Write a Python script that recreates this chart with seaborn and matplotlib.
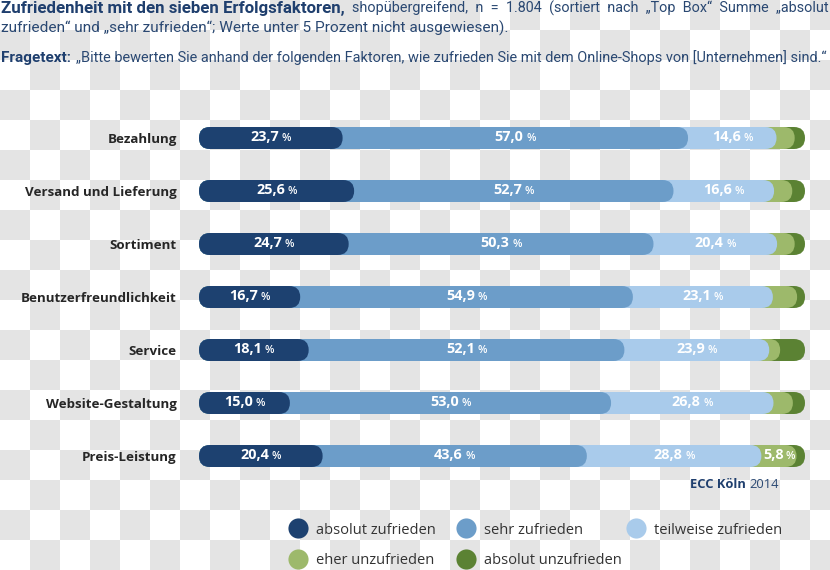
import numpy as np
import pandas as pd
import seaborn as sns
import matplotlib
matplotlib.use("Agg")
import matplotlib.pyplot as plt
from matplotlib import font_manager as fm
from matplotlib.patches import FancyBboxPatch
from matplotlib.lines import Line2D
from matplotlib.offsetbox import TextArea, HPacker, AnnotationBbox

# ---------------- data ----------------
categories = ["Bezahlung", "Versand und Lieferung", "Sortiment",
              "Benutzerfreundlichkeit", "Service", "Website-Gestaltung",
              "Preis-Leistung"]
absolut_zufrieden = [23.7, 25.6, 24.7, 16.7, 18.1, 15.0, 20.4]
sehr_zufrieden = [57.0, 52.7, 50.3, 54.9, 52.1, 53.0, 43.6]
teilweise_zufrieden = [14.6, 16.6, 20.4, 23.1, 23.9, 26.8, 28.8]
eher_unzufrieden = [3.0, 3.0, 2.9, 4.0, 1.8, 3.2, 5.8]
absolut_unzufrieden = [1.7, 2.1, 1.7, 1.3, 4.1, 2.0, 1.4]
series_names = ["absolut zufrieden", "sehr zufrieden", "teilweise zufrieden",
                "eher unzufrieden", "absolut unzufrieden"]
series_values = [absolut_zufrieden, sehr_zufrieden, teilweise_zufrieden,
                 eher_unzufrieden, absolut_unzufrieden]
colors = ["#1d4170", "#6c9dc9", "#a9cbeb", "#9db96b", "#5b8233"]

# ---------------- fonts ----------------
avail = {f.name for f in fm.fontManager.ttflist}
def pick(*names):
    for n in names:
        if n in avail:
            return n
    return "DejaVu Sans"
NARROW = pick("Liberation Sans Narrow", "DejaVu Sans Condensed", "Roboto", "Liberation Sans")
SANS = pick("Open Sans", "Noto Sans", "DejaVu Sans")

sns.set_theme(style="white")
plt.rcParams["font.family"] = [SANS, "DejaVu Sans"]

W, H = 830, 570
fig = plt.figure(figsize=(W / 100, H / 100), dpi=100, facecolor="white")

# checkerboard background (transparency pattern of the reference)
rr = np.arange(H)[:, None] // 30
cc = np.arange(W)[None, :] // 30
checker = np.where((rr + cc) % 2 == 1, 0.895, 1.0)
img = np.dstack([checker, checker, checker])
fig.figimage(img, xo=0, yo=0, origin="upper", zorder=-10)

# axes: x 0..100 maps to px 199..805, rows centred 138..456 px
ax_left, ax_right = 199, 805
ax_top, ax_bot = 111.5, 482.5
ax = fig.add_axes([ax_left / W, 1 - ax_bot / H, (ax_right - ax_left) / W, (ax_bot - ax_top) / H])
ax.set_zorder(2)
ax.set_facecolor("none")

bar_h = 0.415
cum = np.cumsum(np.array(series_values), axis=0)
# draw longest (cumulative) first so shorter ones layer on top
for k in range(len(series_names) - 1, -1, -1):
    df = pd.DataFrame({"cat": categories, "val": cum[k]})
    sns.barplot(data=df, x="val", y="cat", orient="h", color=colors[k],
                saturation=1, width=bar_h, ax=ax, errorbar=None)

ax.set_xlim(0, 100)
ax.set_ylim(len(categories) - 0.5, -0.5)

# turn bars into capsules
px_per_x = (ax_right - ax_left) / 100
px_per_y = (ax_bot - ax_top) / len(categories)
aspect = px_per_x / px_per_y
rects = list(ax.patches)
for i, r in enumerate(rects):
    x0, y0, w, h = r.get_x(), r.get_y(), r.get_width(), r.get_height()
    fc = r.get_facecolor()
    r.remove()
    rad = (h / 2) / aspect
    p = FancyBboxPatch((x0, y0), w, h,
                       boxstyle=f"round,pad=0,rounding_size={rad}",
                       mutation_aspect=aspect, facecolor=fc, edgecolor="none",
                       zorder=2 + i * 0.01)
    ax.add_patch(p)

# value labels (>= 5 %)
for k, vals in enumerate(series_values):
    start = cum[k] - np.array(vals)
    for j, v in enumerate(vals):
        if v < 5:
            continue
        cx = start[j] + v / 2
        t1 = TextArea(f"{v:.1f}".replace(".", ","),
                      textprops=dict(color="white", fontsize=10.4, fontweight="bold", family=SANS))
        t2 = TextArea("%", textprops=dict(color="white", fontsize=7.8, fontweight="semibold", family=SANS))
        box = HPacker(children=[t1, t2], align="baseline", pad=0, sep=2 if k < 3 else 1)
        ab = AnnotationBbox(box, (cx, j), xycoords="data", frameon=False,
                            box_alignment=(0.5, 0.42), pad=0, zorder=10)
        ax.add_artist(ab)

ax.set_xlabel("")
ax.set_ylabel("")
ax.set_xticks([])
ax.tick_params(axis="y", length=0, pad=16)
for lab in ax.get_yticklabels():
    lab.set_fontweight("bold")
    lab.set_fontsize(9.6)
    lab.set_color("#262626")
sns.despine(ax=ax, left=True, bottom=True)

# ---------------- titles ----------------
navy = "#1f3f6e"
renderer = fig.canvas.get_renderer()
def fit(x_px, y_px, s, target_w, ha="left", va="center", **kw):
    t = fig.text(x_px / W, 1 - y_px / H, s, ha=ha, va=va, **kw)
    w = t.get_window_extent(renderer).width
    t.set_fontsize(t.get_fontsize() * target_w / w)
    return t

fit(1, 1, "Zufriedenheit mit den sieben Erfolgsfaktoren,", 345, va="top",
    family=[NARROW, "DejaVu Sans"], fontweight="bold", color=navy, fontsize=11)
fit(1, 28, "zufrieden\u201c und \u201esehr zufrieden\u201c; Werte unter 5 Prozent nicht ausgewiesen).", 507,
    family=[NARROW, "DejaVu Sans"], color="#2a4872", fontsize=11)
fit(829, 1, "shop\u00fcbergreifend,  n  =  1.804  (sortiert  nach  \u201eTop  Box\u201c  Summe  \u201eabsolut", 474,
    ha="right", va="top", family=[NARROW, "DejaVu Sans"], color="#2a4872", fontsize=11)
fit(1, 58, "Fragetext:", 70, family=[NARROW, "DejaVu Sans"], fontweight="bold", color=navy, fontsize=11)
fit(76, 58, "\u201eBitte bewerten Sie anhand der folgenden Faktoren, wie zufrieden Sie mit dem Online-Shops von [Unternehmen] sind.\u201c",
    752, family=[NARROW, "DejaVu Sans"], color="#2a4872", fontsize=11)

# source
fig.text(746 / W, 1 - 485 / H, "ECC K\u00f6ln", ha="right", va="center",
         fontsize=9.3, fontweight="bold", color=navy, family=SANS)
fig.text(749 / W, 1 - 485 / H, "2014", ha="left", va="center",
         fontsize=9.3, color="#2a4872", family=SANS)

# ---------------- legend (one entry per slot, fixed grid) ----------------
leg_fs = 10.5
hl = 1.0
slots = [(298, 530), (466, 530), (636, 530), (298, 561), (466, 561)]
for (cx, cy), name, c in zip(slots, series_names, colors):
    h = Line2D([], [], marker="o", linestyle="none", markersize=14.5,
               markerfacecolor=c, markeredgecolor="none")
    half = hl * leg_fs * 100 / 72 / 2
    leg = fig.legend([h], [name], loc="center left",
                     bbox_to_anchor=((cx - half) / W, 1 - cy / H),
                     frameon=False, fontsize=leg_fs, handlelength=hl,
                     handletextpad=0.75, borderaxespad=0, borderpad=0)
    for t in leg.get_texts():
        t.set_color("#333333")

fig.savefig("out.png", dpi=100, facecolor="white")
